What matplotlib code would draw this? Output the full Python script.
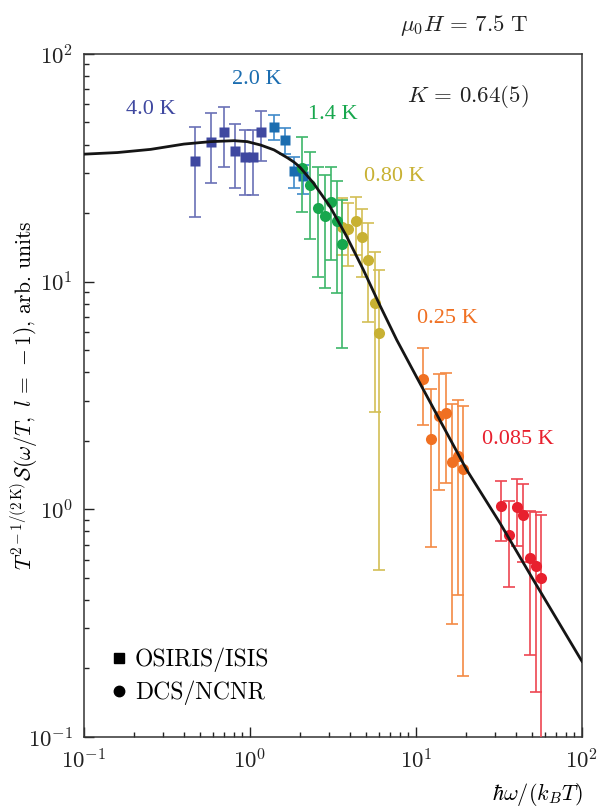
import numpy as np
import matplotlib
matplotlib.use("Agg")
import matplotlib.pyplot as plt
from matplotlib.lines import Line2D

plt.rcParams.update({
    "font.family": "serif",
    "font.serif": ["cmr10"],
    "mathtext.fontset": "cm",
    "axes.formatter.use_mathtext": True,
    "axes.unicode_minus": True,
})

# ---- data: scaled structure factor vs hbar*omega/(k_B T) ----
# OSIRIS/ISIS, T = 4.0 K
x_40 = [0.466, 0.582, 0.697, 0.813, 0.933, 1.04, 1.165]
y_40 = [33.9, 41.2, 45.6, 37.6, 35.4, 35.2, 45.3]
hi_40 = [48.0, 55.2, 58.7, 49.3, 46.4, 46.3, 56.2]
lo_40 = [19.3, 27.1, 31.9, 25.9, 24.1, 24.0, 33.9]

# OSIRIS/ISIS, T = 2.0 K
x_20 = [1.395, 1.618, 1.84, 2.08]
y_20 = [47.7, 41.9, 30.6, 29.1]
hi_20 = [54.0, 47.2, 35.4, 32.5]
lo_20 = [41.9, 36.4, 25.7, 24.3]

# DCS/NCNR, T = 1.4 K
x_14 = [2.06, 2.30, 2.58, 2.83, 3.08, 3.36, 3.58]
y_14 = [31.5, 26.6, 21.1, 19.4, 22.3, 18.5, 14.6]
hi_14 = [43.1, 37.2, 32.0, 29.4, 32.0, 27.8, 22.9]
lo_14 = [20.2, 15.4, 10.5, 9.35, 12.4, 8.95, 5.10]

# DCS/NCNR, T = 0.80 K
x_080 = [3.57, 3.91, 4.33, 4.75, 5.16, 5.64, 6.01]
y_080 = [17.4, 17.0, 18.5, 15.7, 12.4, 8.09, 5.93]
hi_080 = [23.2, 22.1, 23.6, 20.9, 18.1, 13.5, 11.2]
lo_080 = [13.1, 11.7, 13.1, 10.5, 6.67, 2.68, 0.542]

# DCS/NCNR, T = 0.25 K
x_025 = [10.97, 12.3, 13.7, 15.2, 16.5, 17.8, 19.3]
y_025 = [3.75, 2.03, 2.57, 2.64, 1.61, 1.72, 1.51]
hi_025 = [5.13, 3.37, 3.92, 3.96, 2.90, 3.02, 2.85]
lo_025 = [2.35, 0.686, 1.22, 1.31, 0.313, 0.421, 0.185]

# DCS/NCNR, T = 0.085 K
x_0085 = [32.4, 36.5, 40.4, 44.3, 48.6, 52.6, 56.4]
y_0085 = [1.035, 0.772, 1.028, 0.942, 0.612, 0.564, 0.500]
hi_0085 = [1.33, 1.09, 1.36, 1.29, 0.987, 0.977, 0.944]
lo_0085 = [0.729, 0.458, 0.690, 0.589, 0.230, 0.157, 0.05]

# Luttinger-liquid scaling curve, K = 0.64
x_fit = [0.1, 0.159, 0.252, 0.400, 0.579, 0.801, 0.963, 1.16, 1.395, 1.68,
         1.84, 2.00, 2.41, 3.03, 3.82, 4.81, 6.07, 7.65, 10.3, 20.2, 32.1,
         50.9, 97.3, 100.0]
y_fit = [36.3, 36.9, 38.1, 40.2, 41.2, 41.6, 41.2, 39.8, 37.9, 35.0,
         33.5, 31.8, 27.1, 21.4, 15.8, 11.3, 7.85, 5.55, 3.70, 1.49, 0.869,
         0.490, 0.222, 0.215]

fig = plt.figure(figsize=(5.97, 8.09), dpi=100)
ax = fig.add_axes([0.1407, 0.0890, 0.8342, 0.8443])
ax.set_xscale("log")
ax.set_yscale("log")
ax.set_xlim(0.1, 100)
ax.set_ylim(0.1, 100)

ax.plot(x_fit, y_fit, color="#151515", lw=2.0, zorder=5)


def draw(x, y, lo, hi, marker, mcolor, ecolor, z):
    x = np.asarray(x)
    y = np.asarray(y)
    err = [y - np.asarray(lo), np.asarray(hi) - y]
    ax.errorbar(x, y, yerr=err, fmt=marker, color=mcolor, ecolor=ecolor,
                elinewidth=1.2, capsize=4.5, capthick=1.2,
                ms=8 if marker == "o" else 7.5, mec="none", zorder=z)


draw(x_40, y_40, lo_40, hi_40, "s", "#3F48A0", "#6A71B6", 3)
draw(x_20, y_20, lo_20, hi_20, "s", "#1B6DB0", "#3F8ACA", 3)
draw(x_0085, y_0085, lo_0085, hi_0085, "o", "#E8202E", "#EE4652", 3)
draw(x_025, y_025, lo_025, hi_025, "o", "#F07022", "#F38A44", 3)
draw(x_080, y_080, lo_080, hi_080, "o", "#C8B133", "#D3BF55", 3)
draw(x_14, y_14, lo_14, hi_14, "o", "#17A74D", "#3DB66A", 4)

# temperature labels
tfont = dict(family="Liberation Serif", fontsize=16, ha="center", va="center")
ax.text(0.1345, 0.918, "4.0 K", color="#3F48A0", transform=ax.transAxes, **tfont)
ax.text(0.347, 0.962, "2.0 K", color="#1B6DB0", transform=ax.transAxes, **tfont)
ax.text(0.500, 0.911, "1.4 K", color="#17A74D", transform=ax.transAxes, **tfont)
ax.text(0.624, 0.820, "0.80 K", color="#C8B133", transform=ax.transAxes, **tfont)
ax.text(0.729, 0.613, "0.25 K", color="#F07022", transform=ax.transAxes, **tfont)
ax.text(0.871, 0.436, "0.085 K", color="#E8202E", transform=ax.transAxes, **tfont)

ax.text(0.771, 0.937, r"$K\,=\,0.64(5)$", transform=ax.transAxes, ha="center",
        va="center", fontsize=16.5, color="#222222")
fig.text(0.777, 0.969, r"$\mu_0H\,=\,7.5\ \mathrm{T}$", ha="center", va="center",
         fontsize=16.5, color="#222222")

ax.tick_params(which="both", direction="in", top=False, right=False,
               labelsize=16.5, width=1.0, colors="#222222")
ax.tick_params(which="major", length=7.5, pad=8)
ax.tick_params(which="minor", length=3.8)
for s in ax.spines.values():
    s.set_linewidth(1.1)
    s.set_color("#333333")

ax.set_ylabel(r"$T^{2-1/(2\,\mathrm{K})}\mathcal{S}(\omega/T,\ l\,=\,-1)$, arb. units",
              fontsize=15.5)
ax.yaxis.set_label_coords(-0.088, 0.5)
fig.text(0.977, 0.018, r"$\hbar\omega/(k_BT)$", ha="right", va="center", fontsize=16)

handles = [
    Line2D([], [], marker="s", ls="none", color="black", ms=6.5),
    Line2D([], [], marker="o", ls="none", color="black", ms=7.5),
]
ax.legend(handles, [r"OSIRIS/ISIS", r"DCS/NCNR"], loc="lower left",
          bbox_to_anchor=(0.0, 0.016), frameon=False, fontsize=17,
          handletextpad=0.05, handlelength=1.2, labelspacing=0.35)

fig.savefig("out.png", dpi=100)
